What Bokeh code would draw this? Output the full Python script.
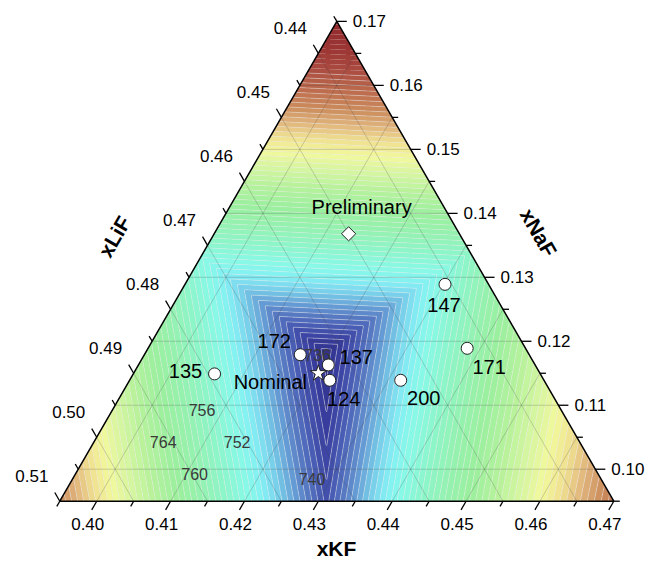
import numpy as np
from bokeh.plotting import figure
from bokeh.models import ColumnDataSource, Range1d
from bokeh.embed import file_html
from bokeh.resources import INLINE
from bokeh.core.properties import value

# ---- composition window of the ternary (mole fractions) ----
KF_MIN, LIF_MIN, NAF_MIN, SPAN = 0.395, 0.435, 0.095, 0.075

# ---- axis ticks ----
kf_ticks = [0.40, 0.41, 0.42, 0.43, 0.44, 0.45, 0.46, 0.47]
lif_ticks = [0.44, 0.45, 0.46, 0.47, 0.48, 0.49, 0.50, 0.51]
naf_ticks = [0.10, 0.11, 0.12, 0.13, 0.14, 0.15, 0.16, 0.17]

# ---- liquidus model: one surface per primary phase field, all through the eutectic ----
eutectic_kf = 0.4195
eutectic_naf = 0.1182
eutectic_T = 734.2
field_names = ["LiF", "KF", "NaF"]
field_dT_dKF = [-1229.0, 1336.0, 74.0]     # dT/dxKF  (xLiF = 1 - xKF - xNaF)
field_dT_dNaF = [-804.0, 479.0, 1317.0]    # dT/dxNaF
field_curv = [0.0, -3808.0, 0.0]           # d2T/du2, u = dxKF + dxNaF/2

# ---- measured samples ----
sample_labels = ["172", "137", "124", "135", "147", "171", "200"]
sample_kf = [0.4161, 0.4207, 0.4221, 0.4060, 0.4302, 0.4382, 0.4317]
sample_naf = [0.1179, 0.1163, 0.1139, 0.1149, 0.1289, 0.1189, 0.1139]
sample_lif = [0.4660, 0.4630, 0.4640, 0.4791, 0.4409, 0.4429, 0.4544]

nominal_kf, nominal_naf, nominal_lif = 0.4200, 0.1150, 0.4650
prelim_kf, prelim_naf, prelim_lif = 0.4132, 0.1368, 0.4500

# ---- isotherm labels ----
iso_values = [736, 740, 752, 756, 760, 764]
iso_kf = [0.4185, 0.4274, 0.4144, 0.4071, 0.4111, 0.4044]
iso_naf = [0.1178, 0.0985, 0.1042, 0.1093, 0.0993, 0.1042]

# ---- colour scale (temperature stops) ----
stop_T = [734, 736.5, 738.5, 740, 742, 744, 746, 748, 750, 752, 755, 759, 763,
          767, 771, 774, 777, 780, 783, 787, 791, 795, 800, 806]
stop_color = ["#30308a", "#383c9c", "#4250ac", "#4c64b8", "#5a80c6", "#68a4d8",
              "#76c8e8", "#80e6f2", "#86f6f0", "#88f8e4", "#8cf6cc", "#94f2b0",
              "#9cf09e", "#b6f29c", "#d8f6a0", "#f2f89c", "#f0e090", "#e0b47c",
              "#cc8c5c", "#bc6a4c", "#aa4a40", "#9c3634", "#922a2c", "#8a2428"]

H = np.sqrt(3) / 2
W_PX, H_PX = 648, 572
X0, X1 = -0.10704, 1.06264
Y0, Y1 = -0.1287, 0.90379
PX = W_PX / (X1 - X0)          # screen pixels per data unit


def to_xy(kf, naf):
    a = (np.asarray(kf, dtype=float) - KF_MIN) / SPAN
    c = (np.asarray(naf, dtype=float) - NAF_MIN) / SPAN
    return a + c / 2, c * H


def hex_to_rgb(h):
    return np.array([int(h[i:i + 2], 16) for i in (1, 3, 5)], dtype=float)


def colour_at(t):
    rgb = np.array([hex_to_rgb(c) for c in stop_color])
    r, g, b = (np.interp(t, stop_T, rgb[:, k]) for k in range(3))
    return "#%02x%02x%02x" % (int(round(r)), int(round(g)), int(round(b)))


p = figure(width=W_PX, height=H_PX, x_range=Range1d(X0, X1), y_range=Range1d(Y0, Y1),
           min_border=0, toolbar_location=None, output_backend="svg")
p.axis.visible = False
p.grid.visible = False
p.outline_line_color = None
p.background_fill_color = "white"
p.border_fill_color = "white"

# ---- liquidus surface ----
gx = np.linspace(-0.005, 1.005, 700)
gy = np.linspace(-0.005, 0.872, 610)
GX, GY = np.meshgrid(gx, gy)
cc = GY / H
KF = KF_MIN + SPAN * (GX - cc / 2)
NAF = NAF_MIN + SPAN * cc
dK = KF - eutectic_kf
dN = NAF - eutectic_naf
u = dK + dN / 2
fields = [eutectic_T + gk * dK + gn * dN + cv * u * u
          for gk, gn, cv in zip(field_dT_dKF, field_dT_dNaF, field_curv)]
T = np.max(fields, axis=0)

fill_levels = list(np.arange(733.0, 807.0, 1.0))
fill_palette = [colour_at(0.5 * (a + b)) for a, b in zip(fill_levels[:-1], fill_levels[1:])]
p.contour(gx, gy, T, levels=fill_levels, fill_color=fill_palette, line_color=None)

line_levels = list(np.arange(734.0, 791.0, 1.0))
p.contour(gx, gy, T, levels=line_levels, fill_color=None,
          line_color=["#e8e8e8"] * len(line_levels), line_alpha=0.6, line_width=0.7)

# white out everything outside the triangle
p.patches(xs=[[-0.2, 1.2, 1.2, -0.2], [-0.2, 0.0, 0.5, 0.5, -0.2], [1.2, 1.0, 0.5, 0.5, 1.2]],
          ys=[[-0.2, -0.2, 0.0, 0.0], [0.0, 0.0, H, 1.0, 1.0], [0.0, 0.0, H, 1.0, 1.0]],
          fill_color="white", line_color=None)

# ---- grid lines at the major ticks ----
gxs, gys = [], []
for v in kf_ticks:
    if KF_MIN < v < KF_MIN + SPAN:
        x, y = to_xy([v, v], [NAF_MIN, 1 - v - LIF_MIN])
        gxs.append(list(x)); gys.append(list(y))
for v in lif_ticks:
    if LIF_MIN < v < LIF_MIN + SPAN:
        x, y = to_xy([KF_MIN, 1 - v - NAF_MIN], [1 - v - KF_MIN, NAF_MIN])
        gxs.append(list(x)); gys.append(list(y))
for v in naf_ticks:
    if NAF_MIN < v < NAF_MIN + SPAN:
        x, y = to_xy([KF_MIN, 1 - v - LIF_MIN], [v, v])
        gxs.append(list(x)); gys.append(list(y))
p.multi_line(gxs, gys, line_color="#3c3c3c", line_alpha=0.22, line_width=1)

# ---- triangle frame ----
p.line([0, 1, 0.5, 0], [0, 0, H, 0], line_color="black", line_width=1.5)

# ---- ticks ----
def tick_segments(vals, base_fn, direction, length_px):
    bx, by = base_fn(np.asarray(vals))
    dx, dy = direction
    L = length_px / PX
    return bx, by, bx + dx * L, by + dy * L


bottom_base = lambda v: to_xy(v, np.full_like(v, NAF_MIN))
left_base = lambda v: to_xy(np.full_like(v, KF_MIN), 1 - v - KF_MIN)
right_base = lambda v: to_xy(1 - v - LIF_MIN, v)
d_bottom = (-0.5, -H)
d_left = (-0.5, H)
d_right = (1.0, 0.0)

for ticks, base, d in ((kf_ticks, bottom_base, d_bottom),
                       (lif_ticks, left_base, d_left),
                       (naf_ticks, right_base, d_right)):
    major = np.array(ticks)
    minor = major - 0.005
    x0, y0, x1, y1 = tick_segments(major, base, d, 10)
    p.segment(x0, y0, x1, y1, line_color="black", line_width=1.3)
    x0, y0, x1, y1 = tick_segments(minor, base, d, 6)
    p.segment(x0, y0, x1, y1, line_color="black", line_width=1.3)

FONT = value("Liberation Sans")

def tick_labels(vals, base, dx, dy, align):
    bx, by = base(np.asarray(vals))
    src = ColumnDataSource(dict(x=bx, y=by, t=["%.2f" % v for v in vals]))
    p.text("x", "y", text="t", source=src, x_offset=dx, y_offset=dy,
           text_font=FONT, text_font_size="17px", text_color="black",
           text_align=align, text_baseline="middle")


tick_labels(kf_ticks, bottom_base, -9, 23, "center")
tick_labels(lif_ticks, left_base, -28, -25, "center")
tick_labels(naf_ticks, right_base, 16, 0, "left")

# ---- axis titles ----
for txt, px_, py_, ang in (("xLiF", 114, 236, np.pi / 3),
                           ("xNaF", 538, 232, -np.pi / 3),
                           ("xKF", 336, 548, 0.0)):
    p.text([X0 + px_ / PX], [Y1 - py_ / PX], text=[txt], angle=ang,
           text_font=FONT, text_font_style="bold", text_font_size="21px",
           text_color="black", text_align="center", text_baseline="middle")

# ---- isotherm labels ----
ix, iy = to_xy(iso_kf, iso_naf)
p.text(ix, iy, text=[str(v) for v in iso_values], text_font=FONT, text_font_size="16px",
       text_color="#3a3a3a", text_align="center", text_baseline="middle")

# ---- samples ----
sx, sy = to_xy(sample_kf, sample_naf)
p.scatter(sx, sy, marker="circle", size=12, fill_color="white", line_color="#222222", line_width=1)
label_dx = [-26, 28, 14, -29, -1, 22, 23]
label_dy = [-14, -8, 19, -3, 21, 19, 18]
src = ColumnDataSource(dict(x=sx, y=sy, t=sample_labels, dx=label_dx, dy=label_dy))
p.text("x", "y", text="t", source=src, x_offset="dx", y_offset="dy",
       text_font=FONT, text_font_size="20px", text_color="black",
       text_align="center", text_baseline="middle")

nx_, ny_ = to_xy([nominal_kf], [nominal_naf])
p.scatter(nx_, ny_, marker="star", size=17, fill_color="white", line_color="#222222", line_width=1)
p.text(nx_, ny_, text=["Nominal"], x_offset=-48, y_offset=9, text_font=FONT,
       text_font_size="20px", text_color="black", text_align="center", text_baseline="middle")

px_p, py_p = to_xy([prelim_kf], [prelim_naf])
p.scatter(px_p, py_p, marker="square", angle=np.pi / 4, size=10, fill_color="white",
          line_color="#222222", line_width=1)
p.text(px_p, py_p, text=["Preliminary"], x_offset=13, y_offset=-27, text_font=FONT,
       text_font_size="20px", text_color="black", text_align="center", text_baseline="middle")

open("out.html", "w").write(file_html(p, INLINE))
